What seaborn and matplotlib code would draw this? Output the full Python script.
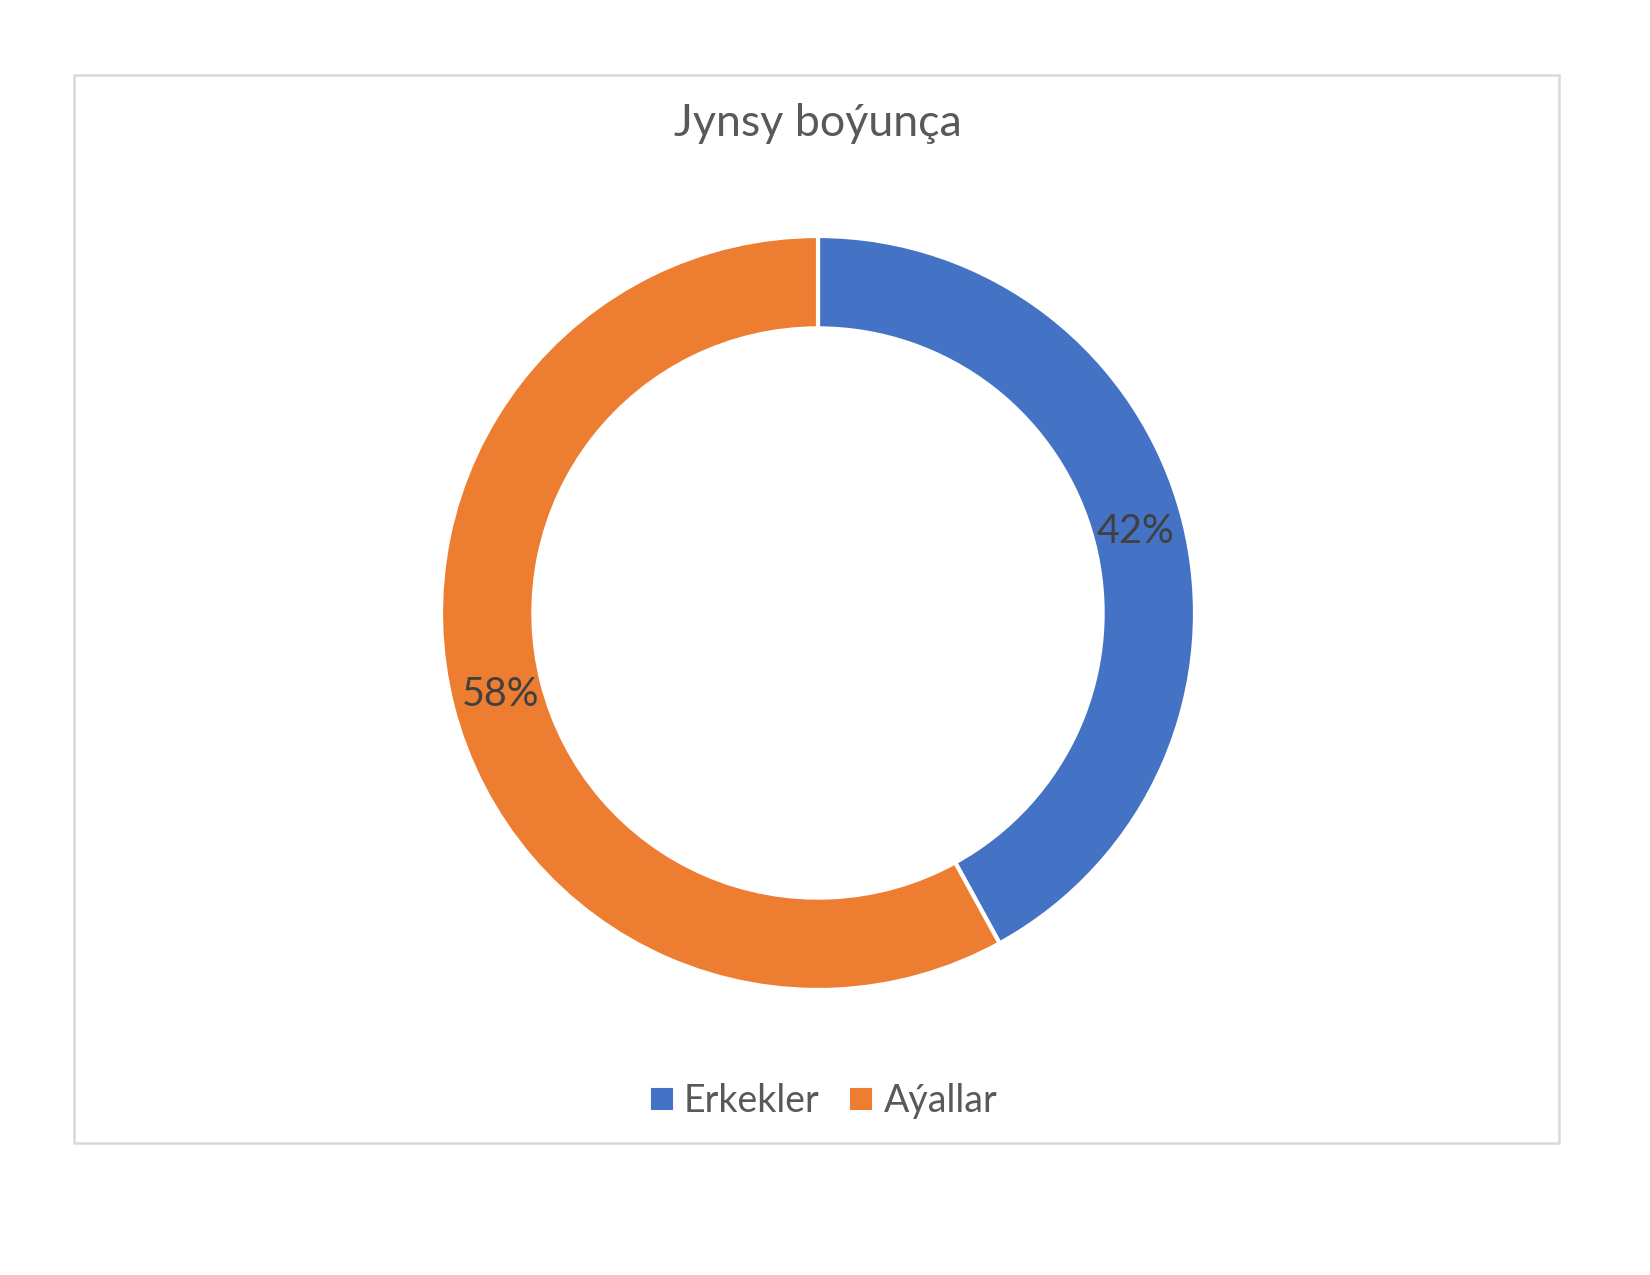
"""
Donut chart: gender split (Jynsy boýunça)
"""
import matplotlib
matplotlib.use('Agg')
import matplotlib.pyplot as plt
from matplotlib.lines import Line2D
from matplotlib.patches import Rectangle
import seaborn as sns

# Data
categories = ['Erkekler', 'Aýallar']
shares = [42, 58]
title = 'Jynsy boýunça'
colors = ['#4472C4', '#ED7D31']

sns.set_theme(style='white')
plt.rcParams['font.family'] = ['Lato', 'DejaVu Sans']

W, H = 1650, 1275
fig = plt.figure(figsize=(11, 8.5), dpi=150)

# Chart area frame
fig.add_artist(Rectangle((74 / W, 1 - 1143 / H), (1559 - 74) / W, (1143 - 75) / H,
                         transform=fig.transFigure, fill=False,
                         edgecolor='#D9D9D9', linewidth=1.2))

# Donut axes: centre (818, 613) px, radius 377 px
cx, cy, r = 818, 613, 377
ax = fig.add_axes([(cx - r) / W, 1 - (cy + r) / H, 2 * r / W, 2 * r / H])
wedges, texts, autotexts = ax.pie(
    shares,
    colors=colors,
    startangle=90,
    counterclock=False,
    autopct='%1.0f%%',
    pctdistance=0.87,
    radius=1.0,
    wedgeprops={'width': 0.245, 'edgecolor': 'white', 'linewidth': 2},
    textprops={'fontsize': 19, 'color': '#404040'},
)
ax.set_xlim(-1, 1)
ax.set_ylim(-1, 1)
ax.set_aspect('equal')
ax.axis('off')

fig.text(0.4955, 1 - 124 / H, title, ha='center', va='center',
         fontsize=21.5, color='#595959')

handles = [Line2D([], [], marker='s', linestyle='none', markersize=9.5,
                  markerfacecolor=c, markeredgecolor=c) for c in colors]
fig.legend(handles, categories, loc='center', bbox_to_anchor=(0.497, 1 - 1101 / H),
           ncol=2, frameon=False, fontsize=18, labelcolor='#595959',
           handletextpad=0.1, columnspacing=0.6, handlelength=1.0)

plt.savefig('out.png', dpi=150)
plt.close()
